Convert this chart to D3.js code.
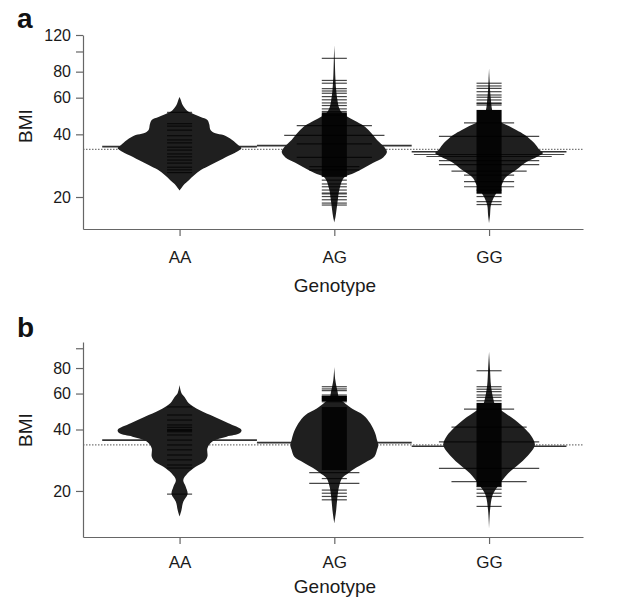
<!DOCTYPE html>
<html>
<head>
<meta charset="utf-8">
<script src="https://cdn.jsdelivr.net/npm/d3@7"></script>
<style>
  html, body { margin: 0; padding: 0; background: #fff; }
  svg { display: block; font-family: "Liberation Sans", Arial, Helvetica, sans-serif; }
</style>
</head>
<body>
<svg id="chart" width="621" height="598"></svg>
<script>
// ---------------- DATA ----------------
const genotypes = ["AA", "AG", "GG"];
const yTicksA = [20, 40, 60, 80, 100, 120];
const yTickLabelsA = ["20", "40", "60", "80", "", "120"];
const yTicksB = [20, 40, 60, 80, 100];
const yTickLabelsB = ["20", "40", "60", "80", ""];
const xTitle = "Genotype";
const yTitle = "BMI";

// bean shapes: [BMI, relative density]
const beanAA_a = [[21.5,0],[22.1,0.03],[23.1,0.08],[24.1,0.15],[25.5,0.24],[27.0,0.35],[28.5,0.5],[30.1,0.66],[31.8,0.82],[32.5,0.89],[33.6,0.97],[34.4,1.0],[35.5,0.95],[37.6,0.85],[39.7,0.71],[40.5,0.58],[42.0,0.5],[44.7,0.48],[46.9,0.45],[48.5,0.34],[50.6,0.19],[52.4,0.11],[55.3,0.05],[58.5,0.02],[60.4,0]];
const beanAG_a = [[15.1,0],[16.1,0.02],[18.7,0.05],[21.6,0.08],[24.1,0.13],[25.1,0.18],[26.1,0.32],[27.5,0.47],[29.2,0.63],[31.0,0.79],[32.9,0.85],[34.7,0.81],[37.6,0.69],[40.5,0.6],[43.4,0.5],[45.8,0.37],[48.5,0.22],[50.6,0.13],[53.4,0.08],[58.5,0.05],[65.3,0.03],[77.2,0.015],[91,0.008],[107.5,0]];
const beanGG_a = [[15.0,0],[16.4,0.016],[18.3,0.03],[20.0,0.08],[21.6,0.15],[23.1,0.21],[24.7,0.26],[27.0,0.44],[29.5,0.61],[31.1,0.77],[32.5,0.87],[33.8,0.81],[36.3,0.73],[39.7,0.58],[42.0,0.44],[43.9,0.32],[45.4,0.21],[48.0,0.1],[52.4,0.05],[58.5,0.03],[65.3,0.016],[73,0.008],[83,0]];
const beanAA_b = [[15.0,0],[16.1,0.03],[17.7,0.06],[19.3,0.13],[21.0,0.1],[22.6,0.06],[24.4,0.13],[26.3,0.26],[27.8,0.4],[29.5,0.45],[32.4,0.45],[34.9,0.53],[36.9,0.76],[38.3,0.97],[39.8,1.0],[42.9,0.79],[46.2,0.56],[49.8,0.32],[53.8,0.15],[57.7,0.08],[60.4,0.03],[66.1,0]];
const beanAG_b = [[13.9,0],[16.1,0.03],[18.7,0.05],[21.2,0.08],[23.2,0.13],[24.5,0.23],[26.0,0.35],[27.6,0.5],[29.5,0.65],[31.8,0.69],[33.5,0.71],[35.5,0.69],[38.3,0.66],[42.9,0.58],[47.0,0.47],[50.5,0.29],[53.5,0.18],[57,0.08],[62,0.05],[70,0.016],[81,0]];
const beanGG_b = [[13.1,0],[16.1,0.016],[18.8,0.05],[20.2,0.1],[21.8,0.18],[24.4,0.31],[27.3,0.5],[30.6,0.66],[33.6,0.74],[36.9,0.69],[39.8,0.6],[44.5,0.42],[49.8,0.19],[52.7,0.1],[57,0.065],[66,0.03],[78,0.016],[96.2,0]];

// individual bean lines: [BMI, number of stacked observations]
const linesAA_a = [[51,1],[45,1],[43.8,1],[41.9,1],[39.4,1],[37.6,1],[36.4,1],[34.7,1],[33.6,1],[32.2,1],[31.2,1],[30.1,1],[29.1,1],[27.8,1],[27.0,1],[26.2,1]];
const linesAG_a = [[92.7,1],[72.6,1],[70.4,1],[66.3,1],[64.6,1],[63.0,1],[60.7,1],[58.6,1],[56.6,1],[55.0,1],[53.0,1],[51.5,1],[49.5,1],[44.0,3],[39.5,4],[36.0,3],[31.0,3],[28.0,2],[27.0,2],[24.1,1],[23.1,1],[22.4,1],[21.6,1],[20.9,1],[20.7,1],[20.1,1],[19.4,1],[18.7,1],[18.3,1]];
const linesGG_a = [[70.4,1],[68.3,1],[66.5,1],[64.1,1],[61.8,1],[60.3,1],[58.5,1],[56.6,1],[56.2,1],[55.3,1],[45.4,2],[39.1,4],[32.0,6],[31.3,5],[29.9,4],[28.6,4],[26.6,3],[25.5,2],[23.7,2],[22.4,2],[21.6,1],[20.8,1],[20.1,1],[19.0,1],[18.4,1]];
const linesAA_b = [[51.6,1],[47.1,1],[44.5,1],[42.1,1],[41.0,1],[40.0,1],[39.5,1],[39.0,1],[37.6,1],[35.5,1],[33.6,1],[31.8,1],[30.0,1],[28.4,1],[26.8,1],[25.9,1],[19.3,1]];
const linesAG_b = [[64.8,1],[63.2,1],[62.0,1],[59.0,1],[57.9,1],[56.9,1],[55.8,1],[54.7,1],[24.6,2],[23.0,1],[21.8,2],[20.2,1],[19.5,1],[18.8,1],[18.1,1]];
const linesGG_b = [[77.6,1],[64.8,1],[63.0,1],[61.3,1],[59.0,1],[57.5,1],[55.3,1],[50.3,2],[41.1,3],[34.8,4],[25.8,4],[22.2,3],[21.0,1],[20.4,1],[19.5,1],[18.8,1],[16.8,1]];

// ranges where bean lines are so dense they merge: [low BMI, high BMI]
const denseAA_a = [];
const denseAG_a = [[25.0, 51.0]];
const denseGG_a = [[20.9, 52.4]];
const denseAA_b = [];
const denseAG_b = [[25.3, 51.5], [55.0, 58.5]];
const denseGG_b = [[21.0, 54.0]];

// group means and overall mean
const meansA = [34.9, 35.3, 33.0];
const overallA = 33.9;
const meansB = [35.5, 34.5, 33.1];
const overallB = 33.6;

// ---------------- DRAW ----------------
const svg = d3.select("#chart");
const x = d3.scaleLinear().domain([0.376, 3.607]).range([83, 583]);
const wScale = d3.scaleLinear().domain([0, 1]).range([0, 0.4]); // density -> half width (x units)
const lineHalf = 0.081;

const panels = [
  { letter: "a", beans: [beanAA_a, beanAG_a, beanGG_a], lines: [linesAA_a, linesAG_a, linesGG_a],
    dense: [denseAA_a, denseAG_a, denseGG_a], means: meansA, overall: overallA,
    y: d3.scaleLog().domain([14.04, 120]).range([229, 35]),
    ticks: yTicksA, tickLabels: yTickLabelsA,
    letterY: 28, bmiY: 126, xLabPad: 15, titleY: 292 },
  { letter: "b", beans: [beanAA_b, beanAG_b, beanGG_b], lines: [linesAA_b, linesAG_b, linesGG_b],
    dense: [denseAA_b, denseAG_b, denseGG_b], means: meansB, overall: overallB,
    y: d3.scaleLog().domain([11.9, 107.3]).range([537, 342]),
    ticks: yTicksB, tickLabels: yTickLabelsB,
    letterY: 337, bmiY: 430, xLabPad: 12, titleY: 593 }
];

panels.forEach(p => {
  const g = svg.append("g");
  const y = p.y;
  const yBottom = y.range()[0];

  // overall mean (dotted)
  g.append("line")
    .attr("x1", x.range()[0]).attr("x2", x.range()[1])
    .attr("y1", y(p.overall)).attr("y2", y(p.overall))
    .attr("stroke", "#777").attr("stroke-width", 1.2).attr("stroke-dasharray", "1.5,1.5");

  // group means (behind beans)
  genotypes.forEach((name, i) => {
    const pos = i + 1;
    g.append("line")
      .attr("x1", x(pos - 0.5)).attr("x2", x(pos + 0.5))
      .attr("y1", y(p.means[i])).attr("y2", y(p.means[i]))
      .attr("stroke", "#333").attr("stroke-width", 1.6);
  });

  genotypes.forEach((name, i) => {
    const pos = i + 1;
    const area = d3.area()
      .y(d => y(d[0]))
      .x0(d => x(pos - wScale(d[1])))
      .x1(d => x(pos + wScale(d[1])))
      .curve(d3.curveCatmullRom.alpha(0.5));
    g.append("path").datum(p.beans[i]).attr("d", area).attr("fill", "#1f1f1f");

    g.selectAll(null).data(p.dense[i]).join("rect")
      .attr("x", x(pos - lineHalf)).attr("width", x(pos + lineHalf) - x(pos - lineHalf))
      .attr("y", d => y(d[1])).attr("height", d => y(d[0]) - y(d[1]))
      .attr("fill", "#050505");

    g.selectAll(null).data(p.lines[i]).join("line")
      .attr("x1", d => x(pos - d[1] * lineHalf)).attr("x2", d => x(pos + d[1] * lineHalf))
      .attr("y1", d => y(d[0])).attr("y2", d => y(d[0]))
      .attr("stroke", "#000").attr("stroke-opacity", 0.72).attr("stroke-width", 1.2);
  });

  // y axis
  const yAxis = d3.axisLeft(y).tickValues(p.ticks)
    .tickFormat((d, i) => p.tickLabels[i]).tickSize(7).tickSizeOuter(0).tickPadding(5);
  const ya = g.append("g").attr("transform", `translate(${x.range()[0]},0)`).call(yAxis);
  ya.selectAll("path,line").attr("stroke", "#666").attr("stroke-width", 1.2);
  ya.selectAll("text").attr("font-size", 16).attr("fill", "#1a1a1a")
    .attr("font-family", '"Liberation Sans", Arial, sans-serif');

  // x axis
  const xAxis = d3.axisBottom(x).tickValues([1, 2, 3])
    .tickFormat((d, i) => genotypes[i]).tickSize(7).tickSizeOuter(0).tickPadding(p.xLabPad);
  const xa = g.append("g").attr("transform", `translate(0,${yBottom})`).call(xAxis);
  xa.selectAll("path,line").attr("stroke", "#666").attr("stroke-width", 1.2);
  xa.selectAll("text").attr("font-size", 17).attr("fill", "#1a1a1a")
    .attr("font-family", '"Liberation Sans", Arial, sans-serif');

  // titles
  g.append("text").attr("x", 335).attr("y", p.titleY).attr("text-anchor", "middle")
    .attr("font-size", 19).attr("fill", "#1a1a1a").text(xTitle);
  g.append("text").attr("transform", `translate(32,${p.bmiY}) rotate(-90)`)
    .attr("text-anchor", "middle").attr("font-size", 19).attr("fill", "#1a1a1a").text(yTitle);
  g.append("text").attr("x", 17).attr("y", p.letterY)
    .attr("font-size", 28).attr("font-weight", "bold").attr("fill", "#111").text(p.letter);
});
</script>
</body>
</html>
